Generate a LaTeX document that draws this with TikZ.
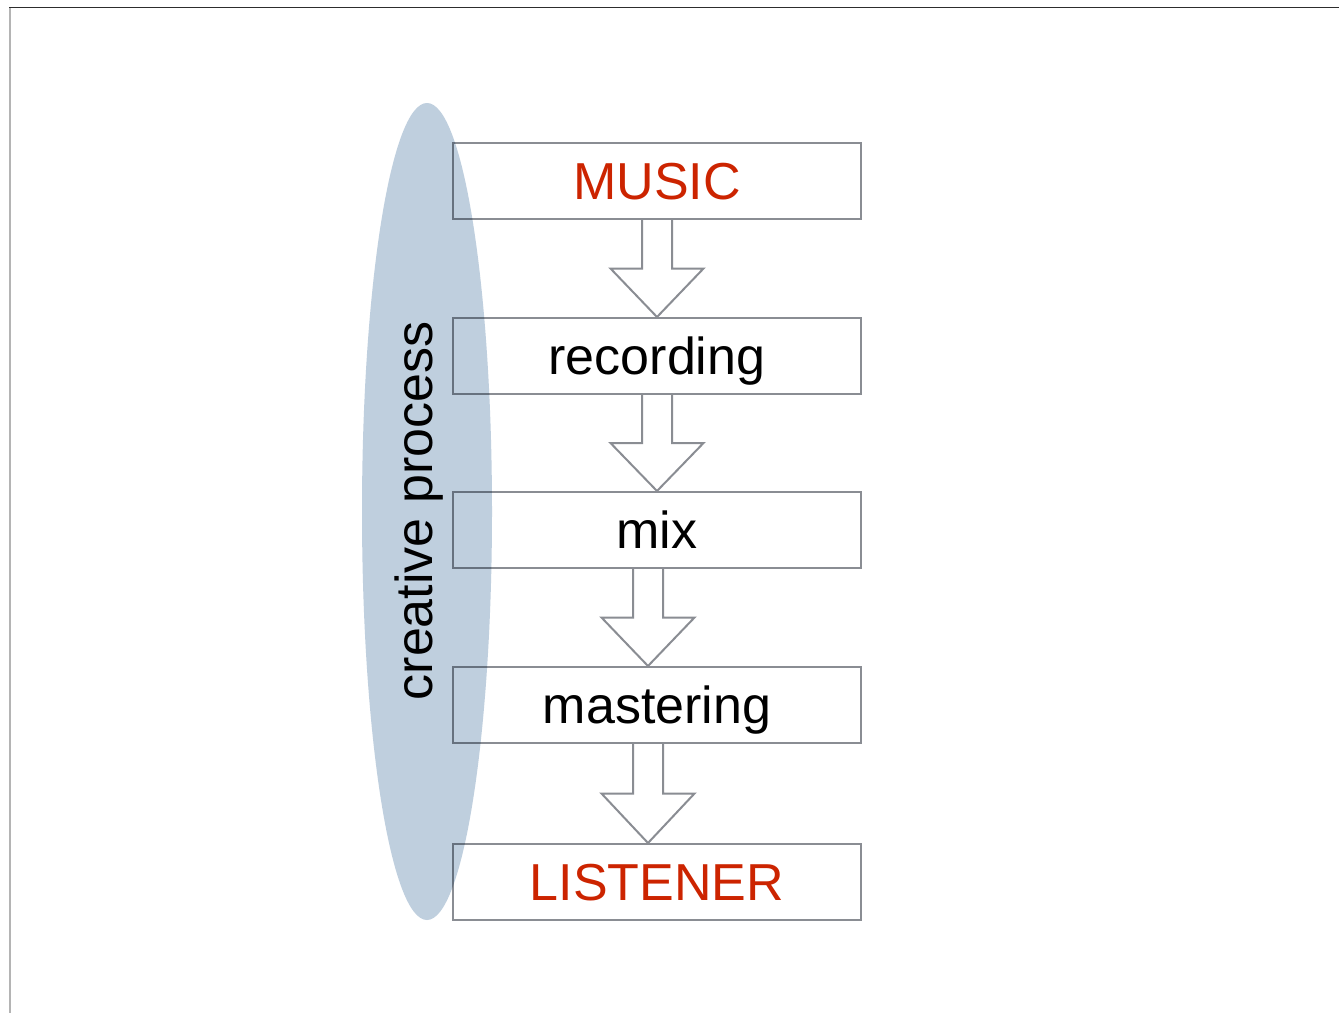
\documentclass[tikz,border=0pt]{standalone}
\usepackage{fontspec}
\setmainfont{Liberation Sans}
\usetikzlibrary{calc}

\pgfdeclarelayer{back}
\pgfsetlayers{back,main}

\definecolor{boxgray}{RGB}{138,141,147}
\definecolor{lensblue}{RGB}{191,207,222}
\definecolor{titlered}{RGB}{204,36,0}
\definecolor{framedark}{RGB}{45,45,45}
\definecolor{framelight}{RGB}{180,180,180}

\tikzset{
  bigtext/.style={font=\fontsize{52}{60}\selectfont, text height=37pt, text depth=0pt, inner sep=0pt},
  stage/.style={bigtext, draw=boxgray, line width=2pt, minimum width=408pt, minimum height=76pt},
  blockarrow/.style={draw=boxgray, line width=2pt, fill=white, line join=miter},
}

% hollow block arrow between two stages, shifted sideways by #3
\newcommand\flowarrow[3]{%
  \draw[blockarrow]
    ($(#1.south)+(#3-15,0)$)
    -- ($(#1.south)!0.5!(#2.north)+(#3-15,0)$)
    -- ($(#1.south)!0.5!(#2.north)+(#3-46.5,0)$)
    -- ($(#2.north)+(#3,0)$)
    -- ($(#1.south)!0.5!(#2.north)+(#3+46.5,0)$)
    -- ($(#1.south)!0.5!(#2.north)+(#3+15,0)$)
    -- ($(#1.south)+(#3+15,0)$);}

\begin{document}
\begin{tikzpicture}[x=1pt, y=-1pt]
  \useasboundingbox (0,0) rectangle (1339,1013);

  \begin{pgfonlayer}{back}
    \fill[white] (0,0) rectangle (1339,1013);
    % grouping lens
    \fill[lensblue] (427,511.5) ellipse [x radius=65, y radius=408.5];
  \end{pgfonlayer}

  % page frame
  \draw[framelight, line width=2pt] (10,8) -- (10,1013);
  \draw[framedark, line width=1.5pt] (9,7.5) -- (1339,7.5);

  % stages
  \begin{scope}[blend mode=multiply]
    \node[stage, text=titlered] (music)     at (657,181) {MUSIC};
    \node[stage]                (recording) at (657,356) {recording};
    \node[stage]                (mix)       at (657,530) {mix};
    \node[stage]                (mastering) at (657,705) {mastering};
    \node[stage, text=titlered] (listener)  at (657,882) {LISTENER};
  \end{scope}

  % flow arrows
  \flowarrow{music}{recording}{0}
  \flowarrow{recording}{mix}{0}
  \flowarrow{mix}{mastering}{-9}
  \flowarrow{mastering}{listener}{-9}

  % side label
  \node[bigtext, rotate=90] (creative) at (414,511) {creative process};
\end{tikzpicture}
\end{document}
